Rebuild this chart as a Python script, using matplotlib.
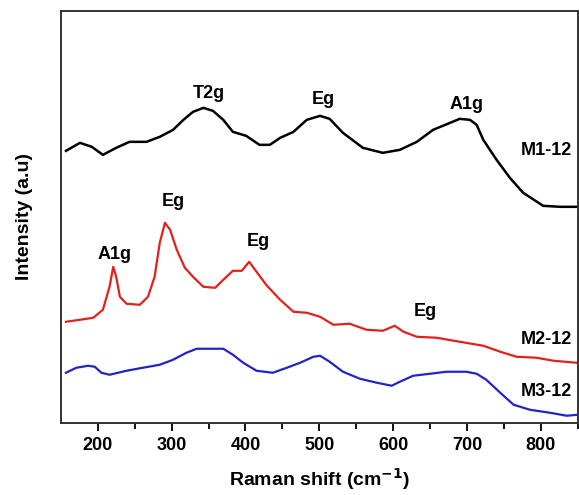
import numpy as np
import matplotlib.pyplot as plt

plt.rcParams['font.family'] = ['Liberation Sans', 'DejaVu Sans']
plt.rcParams['font.weight'] = 'bold'

# M1-12 (black)
m1_x = [157, 176, 192, 207, 225, 243, 266, 284, 302, 316, 329, 343, 356, 370,
        383, 401, 419, 433, 447, 465, 483, 501, 514, 532, 559, 586, 609, 632,
        654, 677, 690, 704, 713, 722, 740, 758, 776, 803, 826, 850]
m1_y = [272, 280, 276, 268, 275, 281, 281, 286, 293, 303, 311, 315, 312, 303,
        291, 287, 278, 278, 285, 291, 303, 307, 304, 290, 275, 270, 273, 281,
        293, 300, 304, 303, 298, 283, 263, 245, 230, 217, 216, 216]

# M2-12 (red)
m2_x = [157, 176, 194, 207, 216, 221, 225, 230, 239, 257, 268, 277, 284, 291,
        298, 307, 318, 329, 343, 359, 370, 383, 395, 405, 415, 428, 447, 465,
        483, 501, 519, 541, 564, 586, 602, 614, 632, 659, 690, 722, 745, 767,
        794, 817, 848]
m2_y = [101, 103, 105, 113, 136, 156, 146, 126, 119, 118, 126, 146, 180, 200,
        193, 173, 155, 146, 136, 135, 143, 152, 152, 161, 151, 138, 123, 111,
        110, 106, 98, 99, 93, 92, 97, 91, 86, 85, 81, 77, 71, 66,
        65, 62, 60]

# M3-12 (blue)
m3_x = [157, 171, 187, 196, 205, 216, 239, 261, 284, 302, 320, 334, 352, 370,
        383, 397, 415, 437, 456, 474, 492, 501, 514, 532, 555, 578, 598, 609,
        627, 650, 672, 699, 713, 726, 745, 763, 785, 812, 835, 850]
m3_y = [50, 55, 57, 56, 50, 48, 52, 55, 58, 63, 70, 74, 74, 74,
        68, 60, 52, 50, 55, 60, 66, 67, 61, 51, 44, 40, 37, 41,
        47, 49, 51, 51, 49, 43, 30, 18, 13, 10, 7, 8]

# peak labels: (text, x, y)
peak_labels = [('T2g', 351, 329), ('Eg', 505, 323), ('A1g', 699, 318),
               ('Eg', 302, 221), ('A1g', 223, 168), ('Eg', 418, 181),
               ('Eg', 644, 111)]
sample_labels = [('M1-12', 272), ('M2-12', 83), ('M3-12', 31)]

fig = plt.figure(figsize=(5.79, 4.95), dpi=100)
ax = fig.add_axes([0.105, 0.146, 0.893, 0.832])

ax.plot(m1_x, m1_y, color='black', lw=1.8)
ax.plot(m2_x, m2_y, color='#e3201b', lw=1.6)
ax.plot(m3_x, m3_y, color='#2323c8', lw=1.6)

for txt, x, y in peak_labels:
    ax.text(x, y, txt, ha='center', va='center', fontsize=13, fontweight='bold')
for txt, y in sample_labels:
    ax.text(808, y, txt, ha='center', va='center', fontsize=13, fontweight='bold')

ax.set_xlim(150, 850)
ax.set_ylim(0, 412)
ax.set_xticks(np.arange(200, 801, 100))
ax.set_xticks(np.arange(250, 851, 100), minor=True)
ax.set_yticks([])
ax.tick_params(axis='x', which='major', direction='out', length=6, width=1.3,
               labelsize=13, pad=4)
ax.tick_params(axis='x', which='minor', direction='out', length=4, width=1.3)
for lab in ax.get_xticklabels():
    lab.set_fontweight('bold')
for sp in ax.spines.values():
    sp.set_linewidth(1.4)
    sp.set_color('#333333')

ax.set_xlabel('Raman shift (cm$^{\\mathbf{-1}}$)', fontsize=14, fontweight='bold', labelpad=9)
ax.set_ylabel('Intensity (a.u)', fontsize=14, fontweight='bold', labelpad=20)

fig.savefig('out.png', dpi=100)
